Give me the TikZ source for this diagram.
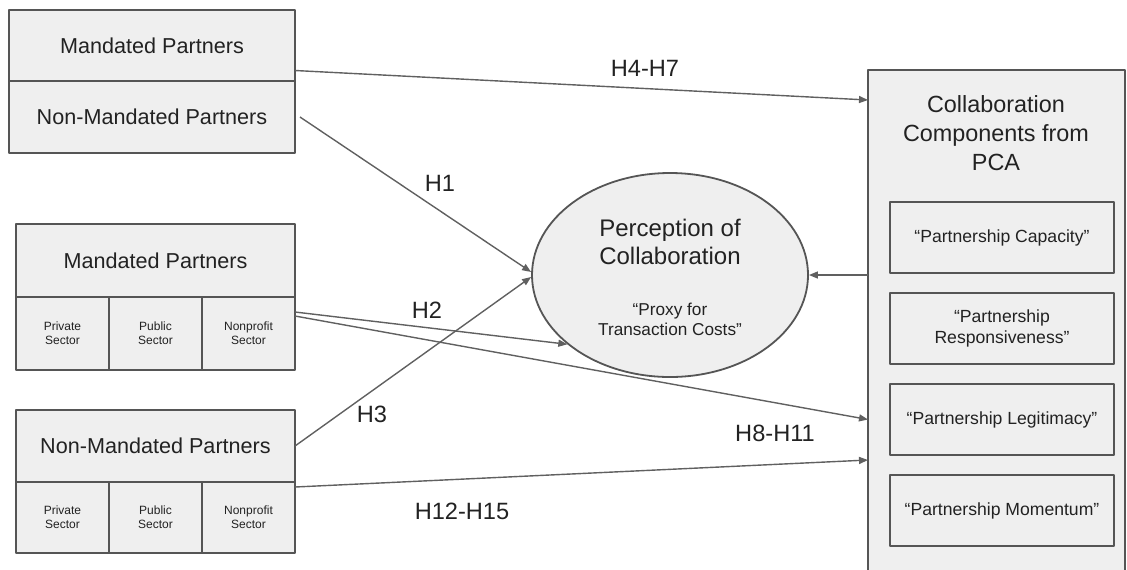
\documentclass[tikz,border=0pt]{standalone}
\usepackage{fontspec}
\setmainfont{Liberation Sans}
\usetikzlibrary{positioning,shapes.geometric,arrows.meta}
\definecolor{boxline}{HTML}{555555}
\definecolor{boxfill}{HTML}{EFEFEF}
\definecolor{arrline}{HTML}{606060}
\definecolor{txt}{HTML}{222222}
\begin{document}
\begin{tikzpicture}[x=0.5pt, y=-0.5pt, line join=round, >={Triangle[length=4.5pt,width=3.5pt]}]
	\tikzset{box/.style={draw=boxline, fill=boxfill, line width=0.9pt, inner sep=0pt, outer sep=0pt, align=center, text=txt, font=\fontsize{10.8}{13}\selectfont},
		sector/.style={box, minimum width=46.5pt, minimum height=36.5pt, font=\fontsize{6}{7}\selectfont},
		comp/.style={box, minimum width=112pt, minimum height=35.5pt, font=\fontsize{8.8}{10.5}\selectfont},
		arr/.style={->, draw=arrline, line width=0.7pt},
		hlab/.style={text=txt, align=center, font=\fontsize{11.8}{14}\selectfont}}
	\useasboundingbox (0,0) rectangle (1127,569);
	\clip (0,0) rectangle (1127,569);
	% partner groups on the left
	\node[box, minimum width=143pt, minimum height=35.5pt, anchor=north west] (mandA) at (9,10) {Mandated Partners};
	\node[box, minimum width=143pt, minimum height=36pt, below=0pt of mandA] (nonmandA) {Non-Mandated Partners};
	\node[box, minimum width=139.5pt, minimum height=36.5pt, anchor=north west] (mandB) at (16,224) {Mandated Partners};
	\node[sector, anchor=north west] (privB) at (mandB.south west) {Private\\Sector};
	\node[sector, right=0pt of privB] (pubB) {Public\\Sector};
	\node[sector, right=0pt of pubB] (nonpB) {Nonprofit\\Sector};
	\node[box, minimum width=139.5pt, minimum height=36pt, anchor=north west] (nonmandC) at (16,410) {Non-Mandated Partners};
	\node[sector, minimum height=35.5pt, anchor=north west] (privC) at (nonmandC.south west) {Private\\Sector};
	\node[sector, minimum height=35.5pt, right=0pt of privC] (pubC) {Public\\Sector};
	\node[sector, minimum height=35.5pt, right=0pt of pubC] (nonpC) {Nonprofit\\Sector};
	% perception
	\node[ellipse, draw=boxline, fill=boxfill, line width=0.9pt, minimum width=138pt, minimum height=102pt, inner sep=0pt] (perc) at (670,275) {};
	\node[hlab, font=\fontsize{12}{14}\selectfont] (perctitle) at (670,242) {Perception of\\Collaboration};
	\node[hlab, font=\fontsize{8.6}{10}\selectfont] (percnote) at (670,319) {“Proxy for\\Transaction Costs”};
	% components from PCA
	\node[box, minimum width=128.5pt, minimum height=253pt, anchor=north west] (pca) at (868,70) {};
	\node[hlab, font=\fontsize{11.7}{14.5}\selectfont] (pcatitle) at (996,133) {Collaboration\\Components from\\PCA};
	\node[comp, anchor=north] (capacity) at (1002,202) {“Partnership Capacity”};
	\node[comp, below=10pt of capacity] (respons) {“Partnership\\Responsiveness”};
	\node[comp, below=10pt of respons] (legit) {“Partnership Legitimacy”};
	\node[comp, below=10pt of legit] (momentum) {“Partnership Momentum”};
	\coordinate (h12end) at ([yshift=-2.5pt]legit.south);
	% hypotheses
	\draw[arr] ([yshift=-12.5pt]mandA.east) -- ([yshift=-15pt]pca.north west);
	\draw[arr] ([xshift=2.5pt]nonmandA.east) -- ([yshift=1.5pt]perc.west);
	\draw[arr] ([yshift=-7.5pt]nonpB.north east) -- (perc.214);
	\draw[arr] (nonmandC.east) -- ([yshift=-1pt]perc.west);
	\draw[arr] ([yshift=-9.5pt]nonpB.north east) -- (pca.west |- legit.west);
	\draw[arr] ([yshift=-2.5pt]nonpC.north east) -- (pca.west |- h12end);
	\draw[arr] (pca.west |- perc.east) -- (perc.east);
	\node[hlab] (lh47) at (645,68) {H4-H7};
	\node[hlab] (lh1) at (440,183) {H1};
	\node[hlab] (lh2) at (427,310) {H2};
	\node[hlab] (lh3) at (372,414) {H3};
	\node[hlab] (lh811) at (775,433) {H8-H11};
	\node[hlab] (lh1215) at (462,511) {H12-H15};
\end{tikzpicture}
\end{document}
